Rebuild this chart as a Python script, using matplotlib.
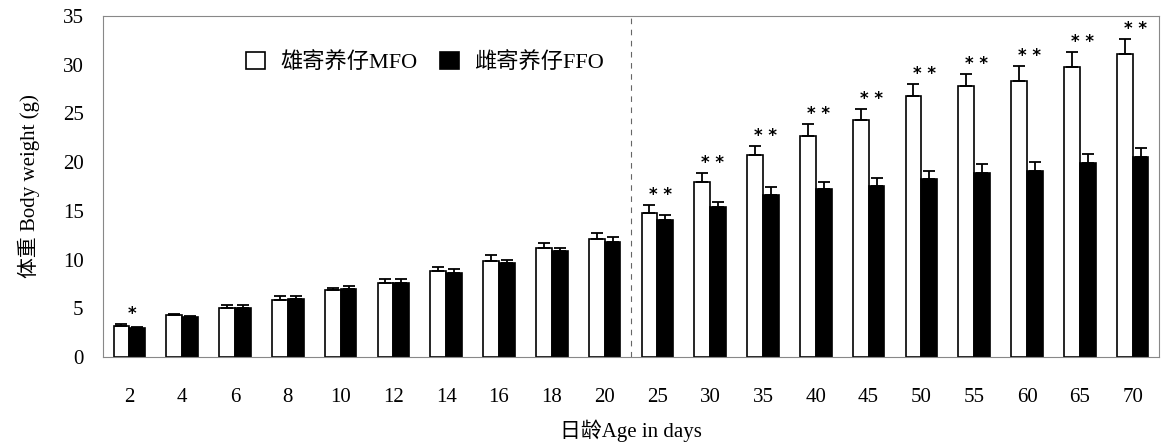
import matplotlib.pyplot as plt
import numpy as np

plt.rcParams["font.family"] = ["Liberation Serif", "Noto Sans CJK SC"]

# %% Data

ages = ["2", "4", "6", "8", "10", "12", "14", "16", "18", "20",
        "25", "30", "35", "40", "45", "50", "55", "60", "65", "70"]
mfo = [3.2, 4.3, 5.0, 5.9, 6.9, 7.6, 8.8, 9.85, 11.2, 12.1,
       14.8, 18.0, 20.7, 22.7, 24.3, 26.8, 27.8, 28.3, 29.8, 31.1]
mfo_err = [0.15, 0.1, 0.35, 0.4, 0.15, 0.45, 0.4, 0.6, 0.5, 0.6,
           0.8, 0.9, 1.0, 1.2, 1.2, 1.2, 1.2, 1.6, 1.5, 1.5]
ffo = [3.0, 4.1, 5.0, 6.0, 7.0, 7.6, 8.6, 9.6, 10.9, 11.8,
       14.1, 15.4, 16.6, 17.2, 17.6, 18.3, 18.9, 19.1, 19.9, 20.5]
ffo_err = [0.1, 0.1, 0.3, 0.3, 0.3, 0.4, 0.4, 0.4, 0.3, 0.5,
           0.5, 0.5, 0.8, 0.8, 0.8, 0.8, 0.9, 0.9, 0.9, 1.0]
signif = ["*", "", "", "", "", "", "", "", "", "",
          "**", "**", "**", "**", "**", "**", "**", "**", "**", "**"]

# %% Plot

fig = plt.figure(figsize=(11.68, 4.43), dpi=100)
ax = fig.add_axes([0.0882, 0.194, 0.9041, 0.770])

x = np.arange(len(ages))
w = 0.3

b1 = ax.bar(
    x - w / 2, mfo, w,
    facecolor="white", edgecolor="black", linewidth=1.2,
    label="雄寄养仔MFO", zorder=2,
)
b2 = ax.bar(
    x + w / 2, ffo, w,
    facecolor="black", edgecolor="black", linewidth=1.2,
    label="雌寄养仔FFO", zorder=2,
)
ax.errorbar(
    x - w / 2, mfo, yerr=[np.zeros(len(mfo)), mfo_err],
    fmt="none", ecolor="black", elinewidth=1.3, capsize=4, capthick=1.3, zorder=3,
)
ax.errorbar(
    x + w / 2, ffo, yerr=[np.zeros(len(ffo)), ffo_err],
    fmt="none", ecolor="black", elinewidth=1.3, capsize=4, capthick=1.3, zorder=3,
)

for i, s in enumerate(signif):
    if s:
        top = mfo[i] + mfo_err[i]
        ax.text(
            x[i] + 0.05, top + 0.1, " ".join(s),
            ha="center", va="bottom", fontsize=12, fontweight="bold",
            family="DejaVu Sans",
        )

ax.axvline(9.5, color="#666666", linestyle=(0, (5, 5)), linewidth=0.8)

ax.set_xlim(-0.5, 19.5)
ax.set_ylim(0, 35)
ax.set_xticks(x)
ax.set_xticklabels(ages)
ax.set_yticks(np.arange(0, 36, 5))
ax.tick_params(axis="both", length=0, labelsize=15)
ax.tick_params(axis="x", pad=22)
ax.tick_params(axis="y", pad=14)

for sp in ax.spines.values():
    sp.set_color("#888888")
    sp.set_linewidth(0.8)

ax.set_ylabel("体重 Body weight (g)", fontsize=15, labelpad=16)
ax.set_xlabel("日龄Age in days", fontsize=15, labelpad=9)

ax.legend(
    handles=[b1, b2],
    loc="center left",
    bbox_to_anchor=(0.125, 0.862),
    ncol=2,
    frameon=False,
    fontsize=16,
    handlelength=0.85,
    handleheight=0.8,
    handletextpad=0.7,
    columnspacing=1.0,
    borderpad=0,
)

fig.savefig("out.png", dpi=100)
